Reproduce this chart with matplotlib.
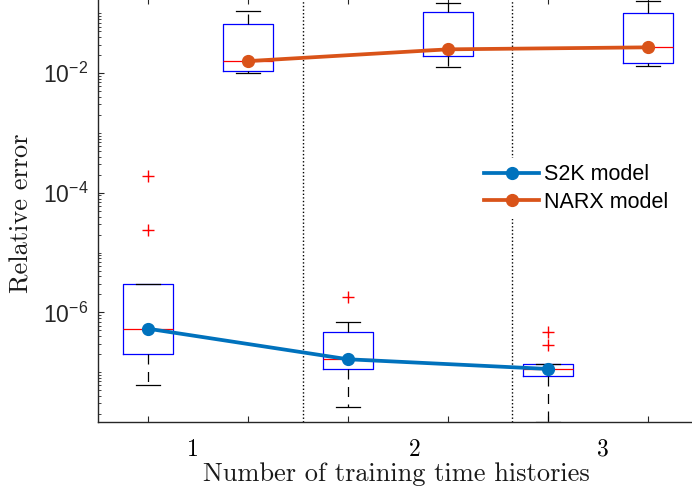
import numpy as np
import matplotlib
matplotlib.use("Agg")
import matplotlib.pyplot as plt
from matplotlib.ticker import FixedLocator, LogLocator, NullFormatter, FixedFormatter

# Relative error statistics for each number of training time histories
s2k_positions = [1, 3, 5]
s2k_median = [5.32e-7, 1.64e-7, 1.13e-7]
s2k_q1 = [1.99e-7, 1.11e-7, 8.7e-8]
s2k_q3 = [3.0e-6, 4.74e-7, 1.35e-7]
s2k_whislo = [6.0e-8, 2.61e-8, 1.47e-8]
s2k_whishi = [3.0e-6, 6.97e-7, 1.36e-7]
s2k_outliers = [[1.9e-4, 2.38e-5], [1.82e-6], [4.69e-7, 2.87e-7]]

narx_positions = [2, 4, 6]
narx_median = [0.0159, 0.0250, 0.0270]
narx_q1 = [0.01084, 0.0191, 0.01476]
narx_q3 = [0.0655, 0.104, 0.100]
narx_whislo = [0.01005, 0.01265, 0.0133]
narx_whishi = [0.109, 0.1486, 0.1637]
narx_outliers = [[], [], []]

group_labels = ['1', '2', '3']
series_labels = ['S2K model', 'NARX model']
ytick_values = [1e-6, 1e-4, 1e-2]
ytick_labels = [r'$\mathregular{10^{-6}}$', r'$\mathregular{10^{-4}}$', r'$\mathregular{10^{-2}}$']

# layout
W, H = 692, 496
label_x = [1.45, 3.67, 5.55]
separators_x = [2.55, 4.64]
SERIF = 'cmr10'
SANS = 'Liberation Sans'
BLUE = '#0072BD'
ORANGE = '#D95319'
AXC = '#262626'

fig = plt.figure(figsize=(W / 100, H / 100), dpi=100)
ax = fig.add_axes([98 / W, (H - 422) / H, 600 / W, 423.5 / H])
ax.set_yscale('log')


def make_stats(med, q1, q3, lo, hi, fl):
    return [dict(med=m, q1=a, q3=b, whislo=l, whishi=h, fliers=f)
            for m, a, b, l, h, f in zip(med, q1, q3, lo, hi, fl)]


stats = make_stats(s2k_median, s2k_q1, s2k_q3, s2k_whislo, s2k_whishi, s2k_outliers) + \
    make_stats(narx_median, narx_q1, narx_q3, narx_whislo, narx_whishi, narx_outliers)
positions = s2k_positions + narx_positions

ax.bxp(stats, positions=positions, widths=0.5, capwidths=0.24, manage_ticks=False,
       boxprops=dict(color='blue', linewidth=0.9),
       medianprops=dict(color='red', linewidth=0.9),
       whiskerprops=dict(color='black', linestyle=(0, (8, 6)), linewidth=0.9),
       capprops=dict(color='black', linewidth=0.9),
       flierprops=dict(marker='+', markeredgecolor='red', markersize=8,
                       markeredgewidth=1.0, linestyle='none'))

for xs in separators_x:
    ax.axvline(xs, color='black', linestyle=(0, (1, 1.6)), linewidth=1.0, zorder=1)

l1, = ax.plot(s2k_positions, s2k_median, '-o', color=BLUE, lw=2.7, ms=8.5, zorder=5)
l2, = ax.plot(narx_positions, narx_median, '-o', color=ORANGE, lw=2.7, ms=8.5, zorder=5)

ax.set_xlim(0.5, 6.5)
ax.set_ylim(10 ** -7.834, 10 ** -0.752)

# axis styling
for sp in ax.spines.values():
    sp.set_color(AXC)
    sp.set_linewidth(1.0)

ax.xaxis.set_major_locator(FixedLocator(positions))
ax.xaxis.set_major_formatter(NullFormatter())
ax.set_xticks(label_x, labels=group_labels, minor=True)
ax.tick_params(axis='x', which='major', direction='in', length=4.3, width=0.8,
               color=AXC, top=True, bottom=True)
ax.tick_params(axis='x', which='minor', length=0, pad=12, labelsize=17,
               labelcolor='black', top=False)
for t in ax.get_xticklabels(minor=True):
    t.set_fontfamily(SERIF)

ax.yaxis.set_major_locator(FixedLocator(ytick_values))
ax.yaxis.set_major_formatter(FixedFormatter(ytick_labels))
ax.yaxis.set_minor_locator(LogLocator(base=10, subs=np.arange(1, 10), numticks=50))
ax.yaxis.set_minor_formatter(NullFormatter())
ax.tick_params(axis='y', which='major', direction='in', length=4.3, width=0.8,
               color=AXC, right=True, pad=7, labelsize=16.5, labelcolor=AXC)
ax.tick_params(axis='y', which='minor', direction='in', length=2.2, width=0.6,
               color=AXC, right=True)
for t in ax.get_yticklabels():
    t.set_fontfamily(SANS)

ax.set_xlabel('Number of training time histories', fontfamily=SERIF, fontsize=19, color='#1a1a1a')
ax.xaxis.set_label_coords(0.498, (422 - 462) / 423.5)
ax.set_ylabel('Relative error', fontfamily=SERIF, fontsize=19, color='#1a1a1a')
ax.yaxis.set_label_coords((33 - 98) / 600, (422 - 213) / 423.5)

leg = ax.legend([l1, l2], series_labels, loc='center left',
                bbox_to_anchor=((484 - 6.5) / W, (H - 188.5) / H),
                bbox_transform=fig.transFigure, frameon=True, fancybox=False,
                edgecolor='none', facecolor='white', framealpha=1,
                borderpad=0.3, borderaxespad=0, handlelength=2.56, handletextpad=0.23,
                labelspacing=0.3, prop={'family': SANS, 'size': 15.5})
for t in leg.get_texts():
    t.set_color('black')

fig.savefig('out.png', dpi=100)
